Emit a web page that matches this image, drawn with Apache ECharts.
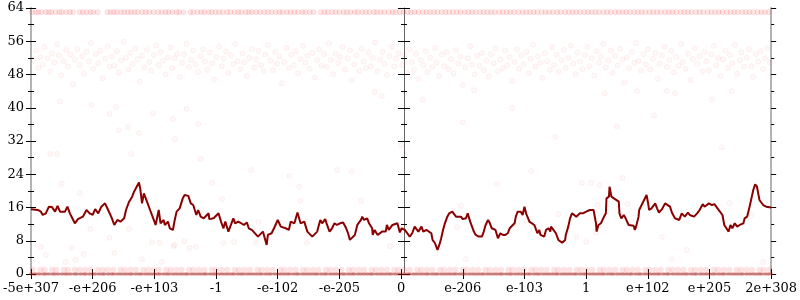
<!DOCTYPE html>
<html><head><meta charset="utf-8">
<script src="https://cdn.jsdelivr.net/npm/echarts@6/dist/echarts.min.js"></script>
<style>html,body{margin:0;padding:0;background:#fff}#c{width:800px;height:300px}</style>
</head><body><div id="c"></div>
<script>
const xTickLabels = ['-5e+307','-e+206','-e+103','-1','-e-102','-e-205','0','e-206','e-103','1','e+102','e+205','2e+308'];
const yTicks = [0,8,16,24,32,40,48,56,64];

const lineData = [[0,15.6],[11,15.4],[16,15.0],[19,14.2],[24,14.6],[29,16.2],[34,16.1],[39,15.0],[43,16.4],[47,15.0],[55,15.0],[59,16.2],[63,14.6],[67,13.4],[71,12.2],[76,13.2],[84,13.8],[90,15.4],[95,14.6],[100,14.2],[104,15.6],[109,14.6],[114,16.2],[120,17.0],[125,15.4],[130,13.8],[135,11.8],[140,13.0],[145,12.6],[151,13.4],[154,15.4],[159,17.4],[164,18.6],[167,19.8],[175,22.0],[177,20.6],[180,17.0],[183,19.4],[188,17.4],[193,15.4],[196,15.4],[199,13.0],[202,11.8],[204,12.2],[207,15.4],[210,12.2],[215,13.0],[217,11.8],[222,12.6],[225,11.0],[230,10.6],[233,13.0],[236,15.0],[241,15.8],[246,18.2],[249,19.0],[255,18.8],[259,17.0],[263,16.6],[265,16.2],[268,14.2],[271,15.4],[275,13.8],[280,13.4],[283,13.0],[288,14.6],[289,13.2],[296,13.4],[299,13.8],[304,14.6],[308,12.6],[312,11.0],[315,12.6],[320,10.2],[323,10.6],[328,13.4],[331,12.2],[336,12.6],[341,12.2],[345,11.8],[350,12.4],[353,11.0],[358,10.6],[361,11.0],[368,9.0],[371,8.6],[376,10.2],[379,8.6],[382,7.0],[384,9.4],[390,9.8],[394,11.0],[397,11.4],[400,13.0],[405,11.4],[408,11.4],[413,11.0],[418,10.6],[421,12.6],[424,13.0],[427,12.2],[432,14.8],[434,14.6],[437,12.2],[440,11.8],[443,12.6],[448,10.2],[451,10.6],[456,9.0],[459,9.4],[464,10.2],[466,11.4],[469,13.0],[472,12.2],[477,13.2],[480,11.8],[484,10.2],[488,11.0],[492,12.2],[496,11.8],[501,12.2],[506,12.4],[511,11.0],[514,9.8],[517,8.2],[520,8.6],[525,9.4],[529,11.8],[532,12.2],[535,13.0],[537,13.8],[540,13.0],[545,13.4],[548,12.2],[553,11.0],[554,9.4],[557,10.6],[562,9.4],[565,9.8],[569,10.2],[572,10.6],[575,10.2],[577,11.8],[580,10.6],[583,10.6],[586,11.8],[594,12.2],[598,10.0],[601,11.0],[606,10.6],[609,10.6],[614,9.0],[618,9.8],[622,11.4],[625,11.0],[628,10.2],[633,11.4],[636,10.2],[641,10.6],[644,10.2],[649,9.8],[651,8.2],[655,7.4],[659,5.8],[662,7.0],[665,8.6],[668,10.6],[671,12.2],[675,13.8],[678,14.6],[683,15.0],[686,15.2],[689,13.8],[692,13.4],[697,13.8],[700,13.2],[705,13.4],[708,14.6],[712,12.6],[715,12.2],[718,10.2],[721,9.4],[726,9.0],[731,9.0],[734,10.2],[737,11.8],[741,13.0],[744,12.2],[747,11.0],[750,11.0],[753,10.6],[757,8.6],[761,9.8],[765,9.4],[769,9.4],[773,9.8],[776,11.0],[779,11.4],[784,12.2],[786,13.8],[789,15.0],[794,15.0],[797,14.2],[800,16.2],[803,14.4],[806,13.4],[808,12.6],[811,12.2],[816,11.8],[819,11.4],[821,9.8],[824,10.6],[826,9.4],[829,9.8],[832,9.0],[835,10.6],[839,11.0],[842,10.2],[843,11.4],[847,10.6],[850,10.6],[851,9.8],[855,8.2],[858,7.8],[861,7.5],[866,8.2],[867,9.4],[871,11.4],[874,13.4],[877,14.6],[880,14.2],[884,13.8],[887,14.2],[890,14.6],[895,14.6],[900,15.0],[903,14.6],[906,15.4],[909,15.0],[912,15.4],[916,12.2],[917,10.2],[920,11.8],[924,12.2],[929,13.8],[932,14.6],[933,18.2],[937,18.6],[938,21.0],[941,18.6],[945,18.2],[948,17.8],[953,17.4],[954,14.6],[957,13.4],[961,14.2],[964,13.4],[969,11.8],[972,11.8],[977,11.6],[979,10.6],[981,11.4],[985,13.8],[986,15.4],[990,16.6],[993,16.2],[994,17.8],[998,19.0],[1001,16.6],[1002,15.4],[1006,15.8],[1009,16.2],[1012,17.0],[1015,15.8],[1018,14.8],[1023,15.6],[1028,17.0],[1031,17.4],[1036,16.2],[1039,14.8],[1044,13.4],[1051,13.0],[1055,14.6],[1060,13.8],[1065,14.8],[1068,14.2],[1075,13.8],[1080,14.6],[1084,15.4],[1089,16.8],[1092,16.2],[1099,17.0],[1104,16.6],[1108,16.8],[1113,15.8],[1116,16.2],[1121,14.2],[1124,11.8],[1131,10.2],[1134,11.8],[1137,11.0],[1141,12.2],[1145,11.4],[1149,11.8],[1155,12.2],[1157,13.4],[1161,13.8],[1165,16.2],[1168,18.2],[1171,20.2],[1174,21.6],[1177,21.0],[1181,17.8],[1187,16.6],[1192,16.2],[1200,16.0]];

const topRowValue = 63;
const topRowX = [2,8,12,17,24,29,33,40,46,50,57,63,68,79,84,90,96,101,108,124,129,134,139,146,151,157,162,168,173,180,186,192,199,206,212,218,223,229,236,240,247,258,263,270,276,281,288,293,299,305,311,318,323,330,336,341,348,353,358,365,371,378,384,390,397,403,408,415,421,427,433,440,445,452,458,470,476,481,488,494,500,507,512,518,525,530,537,543,549,556,561,567,573,580,586,591,598,604,611,616,622,628,635,641,647,653,659,666,672,678,684,690,696,703,709,715,721,728,734,740,746,752,759,765,771,777,783,790,797,803,809,815,821,828,834,840,846,853,859,866,872,878,884,890,897,903,909,915,921,928,934,940,947,953,959,965,971,978,984,990,996,1003,1009,1015,1021,1028,1034,1040,1046,1053,1059,1065,1071,1078,1084,1090,1097,1103,1109,1115,1121,1128,1134,1140,1146,1153,1159,1165,1171,1178,1184,1190,1196];

const bandPoints = [[4,51.5],[9,53.8],[12,49.6],[15,52.2],[19,50.4],[22,54.6],[27,51.9],[31,48.7],[34,53.1],[38,50.9],[42,55.2],[45,52.6],[49,47.8],[53,51.2],[57,53.9],[60,49.9],[64,52.8],[68,45.6],[71,51.6],[75,54.1],[79,50.3],[83,52.4],[86,48.2],[90,53.5],[94,51.1],[97,55.6],[101,49.4],[105,52.9],[109,50.7],[112,53.7],[116,47.1],[120,51.8],[124,54.8],[127,49.9],[131,52.3],[135,50.1],[139,53.6],[142,48.5],[146,51.4],[150,55.9],[154,52.0],[158,49.2],[161,53.2],[165,50.6],[169,54.3],[173,51.7],[176,46.3],[180,52.5],[184,49.7],[188,53.9],[192,51.0],[195,48.9],[199,52.7],[203,55.0],[207,50.2],[210,53.4],[214,51.3],[218,48.0],[222,52.1],[226,54.5],[229,49.5],[233,51.9],[237,53.0],[241,47.4],[245,50.8],[248,52.9],[252,55.4],[256,49.8],[260,51.5],[263,53.8],[267,50.4],[271,48.6],[275,52.4],[279,54.0],[282,51.1],[286,49.1],[290,53.3],[294,50.7],[297,46.8],[301,52.2],[305,54.7],[309,50.0],[312,51.8],[316,53.5],[320,48.4],[324,52.6],[328,50.5],[331,55.3],[335,51.2],[339,49.3],[343,53.1],[346,50.9],[350,47.6],[354,52.0],[358,54.2],[362,49.7],[365,51.6],[369,53.7],[373,50.3],[377,48.8],[380,52.8],[384,55.1],[388,51.3],[392,49.0],[396,53.4],[399,50.6],[403,52.3],[407,45.9],[411,51.0],[414,54.4],[418,49.6],[422,52.7],[426,50.2],[430,53.6],[433,48.3],[437,51.7],[441,54.9],[445,50.8],[448,52.5],[452,49.4],[456,53.2],[460,47.3],[464,51.4],[467,54.0],[471,50.1],[475,52.9],[479,49.8],[483,55.5],[486,51.5],[490,48.1],[494,53.0],[498,50.7],[501,52.2],[505,54.6],[509,49.2],[513,51.9],[517,53.8],[520,46.6],[524,50.4],[528,52.6],[532,48.9],[536,54.2],[539,51.1],[543,49.5],[547,53.3],[551,50.0],[554,52.0],[558,55.7],[562,48.7],[566,51.6],[570,53.5],[573,50.5],[577,47.9],[581,52.4],[585,54.7],[589,49.9],[592,51.8],[596,53.1],[602,50.3],[606,52.7],[609,48.4],[613,54.1],[617,51.0],[621,49.1],[624,53.0],[628,46.9],[632,51.5],[636,50.2],[640,53.6],[643,48.6],[647,52.1],[651,49.8],[655,54.4],[658,50.9],[662,47.7],[666,52.8],[670,50.0],[674,53.4],[677,49.3],[681,51.7],[685,48.2],[689,53.9],[693,50.6],[696,52.3],[700,45.4],[704,49.7],[708,51.9],[712,54.8],[715,50.4],[719,48.0],[723,52.5],[727,50.1],[731,53.2],[734,49.0],[738,51.3],[742,47.5],[746,52.9],[750,50.7],[753,54.3],[757,48.8],[761,51.6],[765,49.5],[769,53.7],[772,50.2],[776,52.2],[780,46.4],[784,51.0],[788,54.0],[791,49.4],[795,52.6],[799,50.5],[803,53.5],[807,48.3],[810,51.8],[814,55.2],[818,49.9],[822,52.4],[826,50.8],[829,47.2],[833,53.1],[837,51.2],[841,49.1],[845,54.5],[848,50.3],[852,52.8],[856,48.6],[860,51.5],[864,53.9],[867,49.6],[871,52.0],[875,55.0],[879,50.6],[883,48.1],[886,53.3],[890,51.1],[894,49.3],[898,52.7],[902,54.6],[905,50.0],[909,51.9],[913,47.8],[917,53.6],[921,50.9],[924,52.3],[928,55.4],[932,49.7],[936,51.4],[940,53.8],[943,48.4],[947,52.5],[951,50.2],[955,54.2],[959,51.6],[962,46.1],[966,52.1],[970,49.5],[974,53.4],[978,50.8],[981,55.6],[985,51.3],[989,48.9],[993,52.9],[997,50.4],[1000,54.0],[1004,49.2],[1008,51.8],[1012,53.2],[1016,47.0],[1019,50.6],[1023,52.6],[1027,54.7],[1031,49.8],[1035,51.5],[1038,53.7],[1042,48.5],[1046,52.2],[1050,50.1],[1054,55.3],[1057,51.0],[1061,49.4],[1065,53.0],[1069,46.7],[1073,51.7],[1076,54.4],[1080,50.5],[1084,52.4],[1088,48.7],[1092,53.5],[1095,51.2],[1099,49.0],[1103,52.8],[1107,54.9],[1111,50.3],[1114,52.0],[1118,47.6],[1122,51.6],[1126,53.8],[1130,49.6],[1133,52.7],[1137,50.7],[1141,55.1],[1145,48.2],[1149,51.4],[1152,53.3],[1156,49.9],[1160,52.1],[1164,54.1],[1168,50.0],[1171,47.4],[1175,52.9],[1179,51.1],[1183,53.6],[1187,49.3],[1190,51.9],[1194,54.3],[1198,50.8]];

const sparsePoints = [[47,41.5],[98,40.7],[138,40.2],[127,38.5],[143,34.6],[157,35.3],[175,33.9],[198,38.7],[230,37.3],[233,32.5],[252,39.7],[271,36.1],[31,28.9],[42,28.9],[162,28.9],[50,21.7],[79,19.5],[275,27.7],[16,6.5],[24,4.6],[66,6.3],[85,4.8],[96,10.8],[127,8.7],[135,5.1],[159,10.8],[56,2.9],[72,3.4],[180,3.6],[196,7.7],[212,2.9],[233,7.0],[249,7.9],[267,6.5],[294,21.9],[310,18.0],[357,25.0],[369,12.5],[209,7.5],[231,6.7],[257,6.3],[312,7.5],[329,7.7],[365,7.6],[419,23.6],[435,21.0],[437,17.6],[535,17.6],[496,25.0],[520,24.7],[447,7.5],[582,6.7],[755,21.7],[697,16.4],[691,11.3],[811,24.8],[893,21.9],[908,21.9],[922,21.4],[959,23.1],[967,16.8],[855,14.4],[916,9.9],[884,8.9],[900,7.7],[803,12.8],[919,16.6],[705,3.6],[1023,8.9],[1039,3.6],[1063,5.8],[1133,17.1],[1168,14.2],[1187,2.9],[930,43.5],[983,44.0],[1031,44.0],[1044,43.5],[1104,42.0],[1136,44.0],[557,43.8],[569,42.8],[635,42.0],[718,44.2],[700,36.5],[850,33.0],[1010,38.2],[1120,30.5],[600,31.0],[780,40.0],[950,35.5]];

const zeroRowValue = 0;
const zeroRowX = [0,5,9,14,20,24,29,35,39,44,50,55,59,64,70,74,80,85,89,95,100,104,110,115,119,125,130,134,140,145,150,155,160,164,170,175,179,185,190,195,200,205,209,215,220,224,230,235,240,245,250,254,260,265,270,275,280,284,290,295,299,305,310,315,320,325,329,335,340,344,350,355,360,365,370,374,380,385,389,395,400,405,410,415,419,425,430,434,440,445,450,455,460,464,470,475,479,485,490,495,500,505,509,515,520,524,530,535,540,545,550,554,560,565,570,575,580,584,590,595,600,605,610,614,620,625,630,635,640,644,650,655,659,665,670,675,680,685,689,695,700,704,710,715,720,725,730,734,740,745,750,755,760,764,770,775,779,785,790,795,800,805,809,815,820,824,830,835,840,845,850,854,860,865,870,875,880,884,890,895,899,905,910,915,920,925,929,935,940,944,950,955,960,965,970,974,980,985,989,995,1000,1005,1010,1015,1019,1025,1030,1034,1040,1045,1050,1055,1060,1064,1070,1075,1079,1085,1090,1095,1100,1105,1109,1115,1120,1124,1130,1135,1140,1145,1150,1154,1160,1165,1170,1175,1180,1184,1190,1195,1200];

const oneRowValue = 1;
const oneRowX = [3,15,22,34,41,53,60,71,79,88,97,108,116,124,133,145,152,161,170,182,190,199,207,219,226,235,244,256,263,272,281,293,300,309,318,330,337,346,355,367,374,383,392,404,411,420,429,441,448,457,466,478,485,494,503,515,522,531,540,552,559,568,577,589,596,605,614,626,633,642,651,663,670,679,688,700,707,716,725,737,744,753,762,774,781,790,799,811,818,827,836,848,855,864,873,885,892,901,910,922,929,938,947,959,966,975,984,996,1003,1012,1021,1033,1040,1049,1058,1070,1077,1086,1095,1107,1114,1123,1132,1144,1151,1160,1169,1181,1188,1197];

const scatterData = [].concat(bandPoints).concat(sparsePoints);
const topData = topRowX.map(x => [x, topRowValue]);
const oneData = oneRowX.map(x => [x, oneRowValue]);
const zeroData = zeroRowX.map(x => [x, zeroRowValue]);

const font = 'DejaVu Serif';
const gray = '#b3b3b3';
function yAx(pos, inside, opts) {
  return Object.assign({
    type: 'value', min: 0, max: 64, interval: 8, position: pos,
    axisLine: { show: false },
    axisTick: { show: true, inside: inside, length: 5, lineStyle: { color: '#000', width: 1 } },
    minorTick: { show: true, splitNumber: 2, length: 3, lineStyle: { color: '#000', width: 1 } },
    axisLabel: { show: false },
    splitLine: { show: false }, minorSplitLine: { show: false }
  }, opts || {});
}
function sc(data, fill, border, z, size) {
  return { type: 'scatter', xAxisIndex: 0, yAxisIndex: 0, data: data, symbol: 'circle', symbolSize: size || 5,
    clip: false, silent: true, z: z,
    itemStyle: { color: fill, borderColor: border, borderWidth: border ? 1 : 0 } };
}
const chart = echarts.init(document.getElementById('c'), null, { renderer: 'canvas' });
chart.setOption({
  animation: false,
  grid: { left: 28, right: 26, top: 8, bottom: 26, containLabel: false },
  xAxis: [
    { type: 'value', min: 0, max: 1200, interval: 100, position: 'bottom',
      axisLine: { show: true, lineStyle: { color: gray, width: 2 } },
      axisTick: { show: true, length: 5, lineStyle: { color: '#000' } },
      axisLabel: { show: true, margin: 8, color: '#000', fontFamily: font, fontSize: 13,
        showMinLabel: true, showMaxLabel: true, hideOverlap: false,
        formatter: v => xTickLabels[Math.round(v / 100)] },
      splitLine: { show: false } },
    { type: 'value', min: 0, max: 1200, interval: 100, position: 'bottom',
      axisLine: { show: false },
      axisTick: { show: true, inside: true, length: 5, lineStyle: { color: '#000' } },
      axisLabel: { show: false }, splitLine: { show: false } },
    { type: 'value', min: 0, max: 1200, interval: 100, position: 'top',
      axisLine: { show: true, lineStyle: { color: gray, width: 2 } },
      axisTick: { show: false }, axisLabel: { show: false }, splitLine: { show: false } }
  ],
  yAxis: [
    yAx('left', false, {
      axisLine: { show: true, onZero: false, lineStyle: { color: gray, width: 2 } },
      axisLabel: { show: true, margin: 7, color: '#000', fontFamily: font, fontSize: 13,
        formatter: v => yTicks.includes(v) ? String(v) : '' } }),
    yAx('left', true),
    yAx('right', false, { axisLine: { show: true, onZero: false, lineStyle: { color: gray, width: 2 } } }),
    yAx('right', true),
    yAx('left', false, { offset: -373, axisLine: { show: true, onZero: false, lineStyle: { color: '#666', width: 1 } },
      axisTick: { show: true, inside: false, length: 6, lineStyle: { color: '#000' } } }),
    yAx('left', true, { offset: -373,
      axisTick: { show: true, inside: true, length: 6, lineStyle: { color: '#000' } } })
  ],
  series: [
    sc(scatterData, 'rgba(245,70,70,0.05)', 'rgba(235,50,50,0.08)', 2),
    sc(topData, 'rgba(245,70,70,0.14)', 'rgba(235,50,50,0.16)', 2),
    sc(oneData, 'rgba(245,80,80,0.2)', null, 2, 6),
    sc(zeroData, 'rgba(220,35,35,0.42)', null, 3, 4),
    { type: 'line', xAxisIndex: 0, yAxisIndex: 0, data: lineData, showSymbol: false, symbol: 'none',
      lineStyle: { color: '#8b0000', width: 2 }, z: 5 }
  ]
});
</script></body></html>
